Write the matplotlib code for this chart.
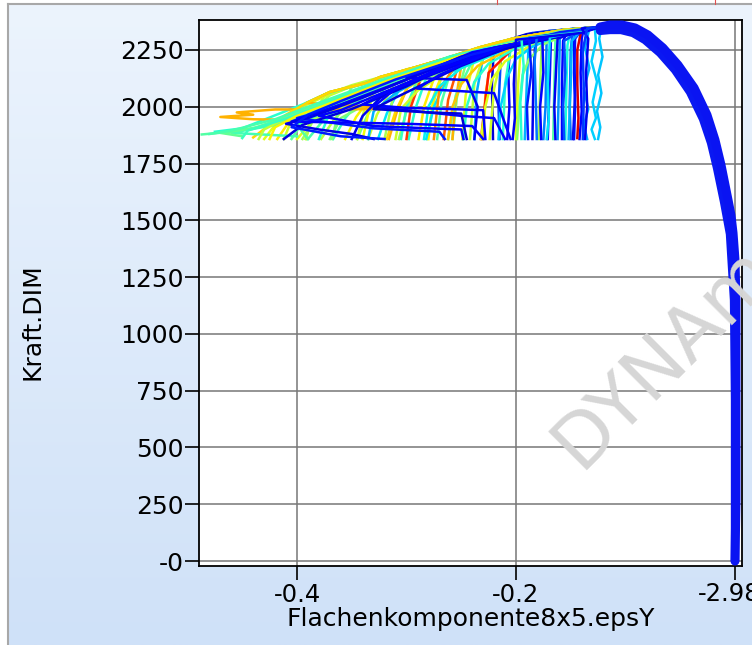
import numpy as np
import matplotlib
matplotlib.use("Agg")
import matplotlib.pyplot as plt
from matplotlib import transforms
from matplotlib.lines import Line2D

plt.rcParams['axes.unicode_minus'] = False
plt.rcParams['font.family'] = ['DejaVu Sans']

# ---------------- data ----------------
# common loading path shared by all runs (strain, force)
main_x = [0.0, 0.0009, 0.0009, 0.0009, 0.0, -0.0018, -0.0037, -0.0064, -0.0128, -0.0183, -0.0256,
          -0.0374, -0.0521, -0.0658, -0.0795, -0.0913, -0.1032, -0.1142, -0.1233]
main_y = [0, 269, 709, 1149, 1325, 1444, 1523, 1590, 1744, 1854, 1964,
          2083, 2184, 2259, 2316, 2347, 2360, 2360, 2351]
# inner edge of the loading band (softest run)
main2_x = [0.0, 0.0, -0.0009, -0.0046, -0.0100, -0.0164, -0.0219, -0.0292, -0.0411,
           -0.0548, -0.0685, -0.0822, -0.0932, -0.1041, -0.1142, -0.1233]
main2_y = [0, 709, 1149, 1440, 1581, 1730, 1841, 1946, 2065,
           2162, 2237, 2294, 2325, 2338, 2338, 2334]

# post-peak branches of the individual runs (x list, y list, colour value 0..1 on jet)
tails_x = [
    # near-vertical bundle
    [-0.128, -0.127, -0.131, -0.126, -0.130, -0.127, -0.131, -0.128],
    [-0.133, -0.137, -0.133, -0.138, -0.134, -0.138, -0.135],
    [-0.122, -0.124, -0.121, -0.125, -0.122, -0.126, -0.123, -0.125],
    [-0.138, -0.140, -0.141, -0.140, -0.142],
    [-0.140, -0.144, -0.144, -0.143, -0.144],
    [-0.145, -0.147, -0.146, -0.148],
    [-0.148, -0.150, -0.151, -0.150],
    [-0.150, -0.153, -0.154, -0.155],
    [-0.152, -0.157, -0.158, -0.158],
    [-0.155, -0.160, -0.161, -0.162],
    [-0.158, -0.164, -0.165, -0.166],
    [-0.160, -0.168, -0.169, -0.171],
    [-0.163, -0.172, -0.173, -0.175],
    [-0.165, -0.176, -0.178, -0.179],
    [-0.170, -0.182, -0.184, -0.185],
    [-0.172, -0.188, -0.190, -0.192],
    [-0.175, -0.195, -0.198, -0.200],
    [-0.180, -0.205, -0.207, -0.206, -0.208],
    [-0.185, -0.213, -0.214, -0.216, -0.215],
    [-0.190, -0.220, -0.222, -0.221],
    # fan of softening branches
    [-0.16, -0.19, -0.205, -0.21, -0.212],
    [-0.16, -0.195, -0.212, -0.22, -0.224],
    [-0.16, -0.20, -0.222, -0.228, -0.230],
    [-0.16, -0.205, -0.23, -0.236, -0.238],
    [-0.16, -0.21, -0.238, -0.246, -0.249],
    [-0.16, -0.215, -0.245, -0.254, -0.258],
    [-0.16, -0.22, -0.252, -0.262, -0.266],
    [-0.16, -0.225, -0.258, -0.268, -0.272],
    [-0.16, -0.23, -0.265, -0.276, -0.281],
    [-0.16, -0.235, -0.272, -0.284, -0.289],
    [-0.16, -0.24, -0.28, -0.292, -0.298],
    [-0.16, -0.245, -0.287, -0.300, -0.307],
    [-0.16, -0.25, -0.295, -0.309, -0.316],
    [-0.16, -0.255, -0.302, -0.318, -0.326],
    [-0.16, -0.26, -0.31, -0.327, -0.335],
    [-0.16, -0.265, -0.318, -0.336, -0.345],
    [-0.16, -0.27, -0.326, -0.346, -0.356],
    [-0.16, -0.275, -0.334, -0.356, -0.367],
    [-0.16, -0.28, -0.342, -0.366, -0.378],
    [-0.16, -0.29, -0.35, -0.376, -0.39],
    [-0.16, -0.30, -0.36, -0.386, -0.40],
    [-0.157, -0.203, -0.228, -0.238, -0.242],
    [-0.157, -0.203, -0.233, -0.250, -0.256, -0.258],
    [-0.157, -0.203, -0.233, -0.263, -0.275, -0.280],
    [-0.157, -0.203, -0.233, -0.263, -0.285, -0.296, -0.300],
    [-0.157, -0.203, -0.233, -0.263, -0.294, -0.312, -0.320],
    [-0.157, -0.203, -0.233, -0.263, -0.294, -0.324, -0.338, -0.345],
    [-0.157, -0.203, -0.233, -0.263, -0.294, -0.324, -0.350, -0.362, -0.368],
    [-0.157, -0.203, -0.233, -0.263, -0.294, -0.324, -0.350, -0.375, -0.386, -0.392],
    [-0.157, -0.203, -0.233, -0.263, -0.294, -0.324, -0.336, -0.370, -0.391, -0.404, -0.420, -0.430],
    [-0.157, -0.200, -0.230, -0.260, -0.290, -0.300, -0.305],
    [-0.160, -0.210, -0.240, -0.255, -0.262],
    [-0.160, -0.200, -0.225, -0.232],
    [-0.165, -0.215, -0.260, -0.275, -0.282],
    [-0.160, -0.220, -0.270, -0.300, -0.310, -0.318],
    [-0.160, -0.210, -0.255, -0.270, -0.275],
    [-0.157, -0.203, -0.233, -0.263, -0.294, -0.324, -0.350, -0.370, -0.385, -0.392],
    [-0.157, -0.203, -0.233, -0.263, -0.294, -0.310, -0.330, -0.340],
    [-0.16, -0.22, -0.28, -0.33, -0.36, -0.37],
    [-0.16, -0.23, -0.29, -0.34, -0.372, -0.38],
    [-0.16, -0.24, -0.30, -0.35, -0.385, -0.395],
    [-0.16, -0.25, -0.31, -0.36, -0.395, -0.405],
    [-0.16, -0.23, -0.28, -0.31, -0.33, -0.335],
    [-0.16, -0.22, -0.265, -0.29, -0.305, -0.31],
    [-0.16, -0.21, -0.25, -0.27, -0.28, -0.284],
    [-0.16, -0.205, -0.235, -0.25, -0.258, -0.262],
    [-0.16, -0.20, -0.225, -0.238, -0.245, -0.248],
    [-0.16, -0.19, -0.21, -0.222, -0.228, -0.232],
    [-0.16, -0.185, -0.200, -0.208, -0.214, -0.216],
    [-0.155, -0.175, -0.188, -0.194, -0.197, -0.199],
    # left part
    [-0.157, -0.203, -0.233, -0.263, -0.294, -0.324, -0.350, -0.375, -0.395, -0.405, -0.412],
    [-0.157, -0.203, -0.233, -0.263, -0.294, -0.324, -0.336, -0.365, -0.388, -0.400, -0.418],
    [-0.157, -0.203, -0.233, -0.263, -0.294, -0.324, -0.336, -0.370, -0.391, -0.404, -0.430, -0.460, -0.487],
    [-0.157, -0.203, -0.233, -0.263, -0.294, -0.324, -0.340, -0.372, -0.395, -0.450, -0.475],
    [-0.157, -0.203, -0.233, -0.263, -0.294, -0.324, -0.336, -0.370, -0.391, -0.300, -0.420, -0.455, -0.440, -0.470, -0.440, -0.400],
    [-0.157, -0.203, -0.233, -0.263, -0.294, -0.324, -0.336, -0.370, -0.391, -0.410, -0.425, -0.440],
    [-0.160, -0.250, -0.320, -0.380, -0.420, -0.460, -0.400],
    [-0.157, -0.25, -0.33, -0.38, -0.41, -0.44, -0.47, -0.45],
    [-0.157, -0.25, -0.33, -0.39, -0.42, -0.46, -0.48],
    [-0.16, -0.26, -0.33, -0.38, -0.41, -0.43, -0.435],
    [-0.16, -0.26, -0.33, -0.38, -0.415, -0.445, -0.45],
    [-0.16, -0.25, -0.32, -0.37, -0.40, -0.42, -0.425],
    [-0.16, -0.24, -0.30, -0.35, -0.385, -0.40, -0.39],
    # dark blue branches with unloading
    [-0.153, -0.200, -0.250, -0.300, -0.324, -0.340, -0.350],
    [-0.153, -0.230, -0.270, -0.300, -0.350, -0.395, -0.412],
    [-0.153, -0.220, -0.270, -0.310, -0.330, -0.250, -0.220, -0.210],
    [-0.153, -0.220, -0.260, -0.300, -0.245, -0.235, -0.238],
    [-0.155, -0.230, -0.280, -0.320, -0.370, -0.400, -0.330, -0.270, -0.265],
    [-0.155, -0.240, -0.300, -0.360, -0.405, -0.300, -0.240, -0.230],
    [-0.155, -0.25, -0.30, -0.34, -0.37, -0.39, -0.41, -0.38, -0.35, -0.33],
    [-0.155, -0.22, -0.26, -0.29, -0.32, -0.34, -0.30, -0.26, -0.23, -0.228],
    [-0.155, -0.22, -0.265, -0.295, -0.33, -0.36, -0.38, -0.33, -0.28, -0.25, -0.248],
    [-0.16, -0.24, -0.31, -0.36, -0.39, -0.405, -0.36, -0.32],
    [-0.155, -0.21, -0.25, -0.28, -0.31, -0.33, -0.28, -0.25, -0.245],
    [-0.155, -0.21, -0.24, -0.27, -0.29, -0.22, -0.205],
    # additional near-vertical blue runs
    [-0.14, -0.146, -0.147, -0.146, -0.147],
    [-0.14, -0.149, -0.15, -0.152],
    [-0.14, -0.156, -0.155, -0.157, -0.156],
    [-0.14, -0.162, -0.163, -0.165, -0.164],
    [-0.14, -0.169, -0.171, -0.170, -0.172],
    [-0.14, -0.176, -0.175, -0.178, -0.177],
    [-0.14, -0.181, -0.183, -0.182, -0.181],
    [-0.14, -0.188, -0.186, -0.190, -0.189],
    [-0.14, -0.195, -0.193, -0.196, -0.195],
    [-0.14, -0.200, -0.202, -0.201, -0.203],
    [-0.14, -0.134, -0.136, -0.135, -0.137],
    [-0.135, -0.139, -0.138, -0.139],
]
tails_y = [
    [2345, 2290, 2200, 2110, 2020, 1950, 1900, 1858],
    [2345, 2260, 2170, 2080, 1990, 1920, 1858],
    [2348, 2300, 2220, 2140, 2060, 1980, 1910, 1858],
    [2346, 2300, 2150, 1980, 1858],
    [2345, 2250, 2100, 1950, 1862],
    [2344, 2280, 2050, 1858],
    [2343, 2250, 2000, 1858],
    [2342, 2270, 2080, 1858],
    [2341, 2290, 2100, 1858],
    [2340, 2300, 2050, 1858],
    [2339, 2300, 2100, 1858],
    [2337, 2310, 2150, 1858],
    [2336, 2310, 2000, 1858],
    [2335, 2320, 2100, 1858],
    [2334, 2315, 2150, 1858],
    [2332, 2310, 2120, 1858],
    [2330, 2300, 2100, 1858],
    [2328, 2295, 2150, 2000, 1858],
    [2325, 2285, 2200, 2000, 1858],
    [2320, 2275, 2100, 1858],
    [2330, 2305, 2250, 2100, 1858],
    [2330, 2300, 2240, 2080, 1858],
    [2328, 2296, 2230, 2050, 1858],
    [2328, 2290, 2220, 2060, 1858],
    [2327, 2285, 2215, 2050, 1858],
    [2326, 2280, 2205, 2040, 1858],
    [2325, 2272, 2195, 2030, 1858],
    [2324, 2268, 2185, 2020, 1858],
    [2323, 2260, 2175, 2010, 1858],
    [2322, 2252, 2165, 2000, 1858],
    [2321, 2246, 2155, 1990, 1858],
    [2320, 2240, 2145, 1980, 1858],
    [2320, 2232, 2130, 1975, 1858],
    [2319, 2225, 2120, 1970, 1858],
    [2318, 2218, 2110, 1965, 1858],
    [2317, 2210, 2098, 1960, 1858],
    [2316, 2202, 2085, 1955, 1858],
    [2315, 2195, 2072, 1950, 1858],
    [2314, 2188, 2060, 1945, 1858],
    [2313, 2176, 2050, 1940, 1858],
    [2312, 2165, 2040, 1935, 1858],
    [2336, 2296, 2250, 2100, 1858],
    [2335, 2295, 2258, 2180, 2000, 1858],
    [2334, 2294, 2255, 2200, 2050, 1858],
    [2333, 2293, 2254, 2207, 2150, 2000, 1858],
    [2333, 2293, 2252, 2205, 2160, 2050, 1858],
    [2334, 2295, 2256, 2210, 2165, 2120, 2000, 1858],
    [2336, 2298, 2260, 2213, 2168, 2128, 2085, 1980, 1858],
    [2337, 2299, 2261, 2214, 2170, 2130, 2095, 2050, 1950, 1858],
    [2338, 2300, 2262, 2215, 2171, 2131, 2105, 2065, 2017, 1973, 1920, 1858],
    [2330, 2285, 2240, 2185, 2120, 2000, 1858],
    [2325, 2270, 2200, 2050, 1858],
    [2322, 2270, 2150, 1858],
    [2325, 2260, 2150, 2000, 1858],
    [2330, 2260, 2170, 2080, 1980, 1858],
    [2328, 2275, 2180, 2080, 1858],
    [2336, 2297, 2258, 2211, 2166, 2124, 2090, 2050, 1990, 1858],
    [2337, 2298, 2259, 2212, 2166, 2140, 2080, 1858],
    [2320, 2240, 2130, 2030, 1950, 1858],
    [2322, 2245, 2140, 2040, 1950, 1858],
    [2324, 2235, 2120, 2020, 1940, 1858],
    [2326, 2225, 2115, 2010, 1930, 1858],
    [2318, 2235, 2140, 2060, 1980, 1858],
    [2316, 2240, 2150, 2070, 1990, 1858],
    [2315, 2250, 2170, 2090, 2000, 1858],
    [2314, 2255, 2180, 2100, 2000, 1858],
    [2313, 2258, 2190, 2110, 2000, 1858],
    [2312, 2260, 2200, 2120, 2000, 1858],
    [2312, 2265, 2210, 2130, 2000, 1858],
    [2315, 2275, 2210, 2140, 2000, 1858],
    [2337, 2298, 2259, 2212, 2168, 2126, 2090, 2045, 2000, 1940, 1858],
    [2338, 2300, 2262, 2215, 2171, 2131, 2108, 2070, 2022, 1985, 1858],
    [2338, 2300, 2262, 2215, 2171, 2131, 2105, 2065, 2017, 1973, 1915, 1890, 1878],
    [2337, 2299, 2261, 2214, 2170, 2128, 2100, 2060, 2010, 1905, 1890],
    [2338, 2300, 2262, 2215, 2171, 2131, 2105, 2065, 2017, 1990, 1988, 1975, 1965, 1955, 1945, 1942],
    [2338, 2300, 2262, 2215, 2171, 2131, 2105, 2065, 2017, 1965, 1920, 1865],
    [2330, 2230, 2100, 1990, 1920, 1885, 1870],
    [2330, 2225, 2100, 2010, 1955, 1905, 1885, 1870],
    [2332, 2230, 2105, 2000, 1945, 1895, 1880],
    [2330, 2220, 2100, 2000, 1950, 1900, 1858],
    [2331, 2222, 2102, 2002, 1940, 1895, 1862],
    [2329, 2225, 2110, 2015, 1960, 1910, 1858],
    [2328, 2230, 2125, 2035, 1970, 1920, 1858],
    [2316, 2270, 2190, 2100, 2039, 1960, 1858],
    [2316, 2240, 2160, 2090, 1990, 1920, 1858],
    [2318, 2255, 2170, 2080, 2000, 1960, 1950, 1858],
    [2320, 2260, 2190, 2128, 2118, 2000, 1858],
    [2322, 2250, 2160, 2080, 1990, 1950, 1905, 1890, 1858],
    [2322, 2240, 2120, 2010, 1935, 1925, 1915, 1858],
    [2320, 2220, 2120, 2040, 1985, 1950, 1925, 1900, 1880, 1858],
    [2320, 2250, 2180, 2120, 2060, 2010, 1995, 1990, 1985, 1858],
    [2321, 2248, 2175, 2115, 2045, 1985, 1960, 1915, 1905, 1900, 1858],
    [2328, 2230, 2120, 2025, 1965, 1910, 1870, 1858],
    [2318, 2255, 2180, 2110, 2040, 1990, 1975, 1970, 1858],
    [2320, 2265, 2205, 2140, 2080, 2060, 1858],
    [2340, 2300, 2150, 2000, 1858],
    [2340, 2290, 2100, 1858],
    [2339, 2290, 2150, 2000, 1858],
    [2338, 2300, 2200, 2000, 1858],
    [2336, 2305, 2100, 1950, 1858],
    [2335, 2310, 2150, 2000, 1858],
    [2333, 2308, 2200, 2050, 1858],
    [2330, 2305, 2150, 2000, 1858],
    [2328, 2300, 2180, 2020, 1858],
    [2325, 2295, 2100, 1950, 1858],
    [2345, 2300, 2150, 2000, 1858],
    [2345, 2250, 2050, 1858],
]
tail_colors = [
    0.33, 0.30, 0.32, 0.12, 0.92, 0.10, 0.22, 0.38, 0.12, 0.27, 0.45, 0.15, 0.25, 0.55, 0.10, 0.30, 0.62,
    0.12, 0.20, 0.08,
    0.40, 0.60, 0.70, 0.30, 0.62, 0.50, 0.82, 0.45, 0.58, 0.66, 0.40, 0.55, 0.72, 0.35, 0.60, 0.48, 0.65,
    0.42, 0.57, 0.44, 0.62,
    0.58, 0.72, 0.65, 0.85, 0.55, 0.60, 0.50, 0.58, 0.62, 0.42, 0.45, 0.88, 0.35, 0.68, 0.76, 0.56, 0.64,
    0.50, 0.40, 0.55, 0.46, 0.30, 0.60, 0.36, 0.70, 0.40, 0.62, 0.33, 0.52,
    0.60, 0.66, 0.45, 0.40, 0.72, 0.68, 0.43, 0.47, 0.44, 0.58, 0.42, 0.65, 0.45,
    0.10, 0.08, 0.12, 0.10, 0.15, 0.11, 0.09, 0.11, 0.12, 0.15, 0.08, 0.13,
    0.14, 0.30, 0.20, 0.10, 0.35, 0.12, 0.24, 0.15, 0.40, 0.10, 0.10, 0.18,
]

x_ticks = [-0.4, -0.2, 0.0]
x_tick_labels = ['-0.4', '-0.2', '']
y_ticks = [0, 250, 500, 750, 1000, 1250, 1500, 1750, 2000, 2250]
y_tick_labels = ['-0', '250', '500', '750', '1000', '1250', '1500', '1750', '2000', '2250']

# ---------------- figure ----------------
W, H = 752, 645
fig = plt.figure(figsize=(W / 100, H / 100), dpi=100)
fig.patch.set_facecolor('white')

# gradient panel background
bg = fig.add_axes([8 / W, 0, (W - 8) / W, (H - 4) / H])
bg.set_zorder(-5)
grad = np.linspace(0, 1, 256).reshape(-1, 1)
top_c = np.array([0xEC, 0xF4, 0xFD]) / 255
bot_c = np.array([0xCF, 0xE1, 0xF8]) / 255
img = top_c[None, None, :] * (1 - grad[:, :, None]) + bot_c[None, None, :] * grad[:, :, None]
bg.imshow(img, aspect='auto', extent=[0, 1, 0, 1], origin='upper')
bg.set_axis_off()
fig.add_artist(Line2D([8 / W, 8 / W], [0, (H - 4) / H], transform=fig.transFigure, color='#a8a8a8', lw=1.5))
fig.add_artist(Line2D([8 / W, 1], [(H - 4) / H, (H - 4) / H], transform=fig.transFigure, color='#a8a8a8', lw=1.5))
for px in (497, 715):
    fig.add_artist(Line2D([px / W, px / W], [(H - 4) / H, 1], transform=fig.transFigure, color='#e05050', lw=0.8))

ax = fig.add_axes([199 / W, 1 - 566 / H, (742 - 199) / W, (566 - 20) / H])
ax.set_facecolor('white')

cmap = plt.get_cmap('jet')
for tx, ty, cv in zip(tails_x, tails_y, tail_colors):
    ax.plot(main_x + tx, main_y + ty, color=cmap(cv), lw=1.8, solid_joinstyle='round', zorder=3)

ax.plot(main2_x, main2_y, color='#0a18f2', lw=6, solid_capstyle='round', solid_joinstyle='round', zorder=4)
ax.plot(main_x, main_y, color='#0a14f2', lw=6.5, solid_capstyle='round', solid_joinstyle='round', zorder=4)

ax.set_xlim(-0.4895, 0.0064)
ax.set_ylim(-22, 2382)
ax.set_xticks(x_ticks, labels=x_tick_labels)
ax.set_yticks(y_ticks, labels=y_tick_labels)
ax.grid(True, color='#777777', lw=1.1)
ax.set_axisbelow(True)
ax.tick_params(axis='both', length=10, width=1.2, labelsize=17.5, colors='black')
ax.tick_params(axis='y', pad=1, labelsize=18)
ax.tick_params(axis='x', pad=2)
for s in ax.spines.values():
    s.set_color('black')
    s.set_linewidth(1.3)

ax.text((698 - 735) / 1095, -0.030, '-2.98E-8', transform=transforms.blended_transform_factory(ax.transData, ax.transAxes),
        ha='left', va='top', fontsize=17.5, clip_on=False)

ax.set_xlabel('Flachenkomponente8x5.epsY', fontsize=18, labelpad=0)
fig.text(33 / W, 1 - 322 / H, 'Kraft.DIM', rotation=90, ha='center', va='center', fontsize=18)

fig.text(580 / W, 1 - 470 / H, 'DYNAmore', rotation=45, rotation_mode='anchor', ha='left', va='baseline',
         fontsize=54, color='#d6d6d6', zorder=10)

fig.savefig('out.png', dpi=100)
